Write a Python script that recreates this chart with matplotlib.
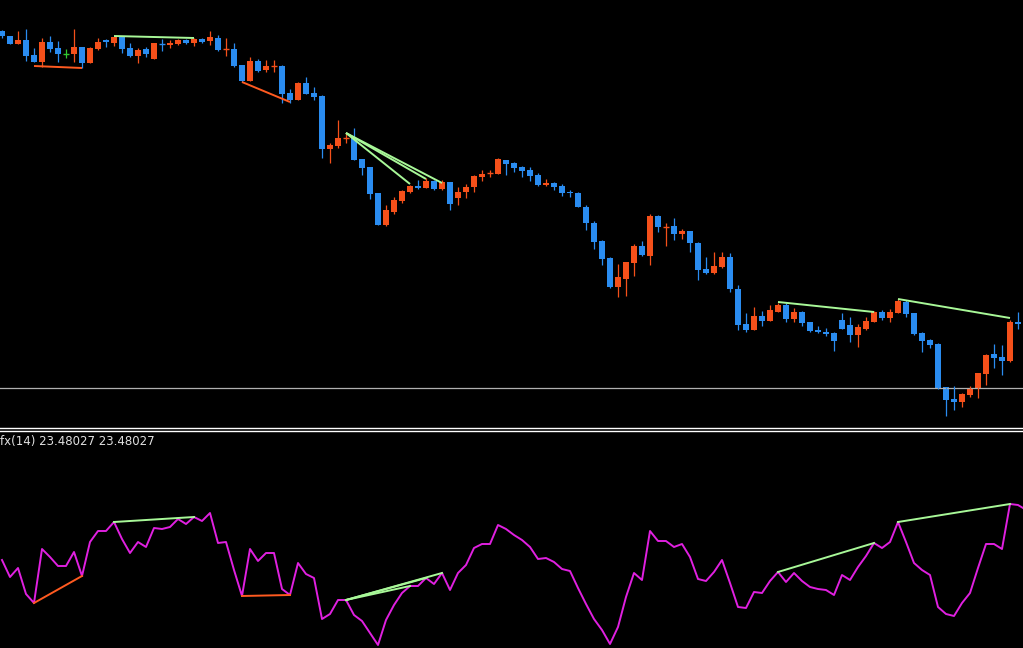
import matplotlib.pyplot as plt
from matplotlib.lines import Line2D

# values (pixel rows, smaller = higher price)
# candle: body top, body bottom, high, low, kind (b = down, r = up, g = flat)
candles = [
    (31, 36, 30, 38, 'b'), (36, 44, 36, 44, 'b'), (40, 44, 31, 44, 'r'), (40, 56, 29, 61, 'b'),
    (55, 62, 48, 62, 'b'), (42, 62, 38, 67, 'r'), (42, 49, 36, 52, 'b'), (48, 54, 41, 62, 'b'),
    (54, 54, 49, 58, 'g'), (47, 54, 29, 62, 'r'), (47, 63, 47, 68, 'b'), (48, 63, 47, 63, 'r'),
    (42, 49, 38, 50, 'r'), (40, 42, 39, 47, 'b'), (37, 43, 37, 46, 'r'), (37, 49, 37, 53, 'b'),
    (48, 56, 43, 57, 'b'), (50, 56, 48, 63, 'r'), (49, 54, 47, 57, 'b'), (43, 59, 43, 59, 'r'),
    (44, 44, 39, 51, 'b'), (43, 45, 40, 48, 'r'), (40, 44, 39, 45, 'r'), (40, 43, 39, 44, 'b'),
    (39, 43, 38, 46, 'r'), (39, 42, 38, 43, 'b'), (37, 41, 31, 45, 'r'), (38, 50, 35, 51, 'b'),
    (49, 49, 38, 56, 'r'), (49, 66, 43, 67, 'b'), (65, 81, 65, 82, 'b'), (61, 81, 57, 81, 'r'),
    (61, 71, 59, 72, 'b'), (66, 70, 60, 72, 'r'), (66, 66, 60, 72, 'r'), (66, 94, 65, 103, 'b'),
    (93, 100, 89, 103, 'b'), (83, 100, 82, 100, 'r'), (83, 94, 77, 94, 'b'), (93, 97, 87, 100, 'b'),
    (96, 149, 95, 158, 'b'), (145, 149, 143, 163, 'r'), (138, 146, 120, 148, 'r'), (138, 138, 133, 143, 'r'),
    (138, 160, 128, 160, 'b'), (159, 168, 159, 175, 'b'), (167, 194, 167, 199, 'b'), (193, 225, 193, 225, 'b'),
    (210, 225, 205, 226, 'r'), (200, 212, 197, 214, 'r'), (191, 201, 190, 203, 'r'), (186, 192, 185, 193, 'r'),
    (186, 188, 180, 189, 'b'), (181, 188, 178, 188, 'r'), (181, 189, 180, 190, 'b'), (182, 189, 180, 190, 'r'),
    (182, 204, 182, 210, 'b'), (192, 198, 187, 205, 'r'), (187, 192, 184, 198, 'r'), (176, 187, 175, 192, 'r'),
    (174, 177, 170, 181, 'r'), (173, 173, 170, 177, 'r'), (159, 174, 158, 174, 'r'), (160, 164, 160, 175, 'b'),
    (163, 168, 162, 172, 'b'), (167, 171, 166, 177, 'b'), (170, 176, 167, 181, 'b'), (175, 185, 173, 186, 'b'),
    (183, 185, 179, 186, 'r'), (183, 187, 182, 190, 'b'), (186, 193, 184, 196, 'b'), (192, 193, 190, 197, 'b'),
    (193, 207, 192, 207, 'b'), (207, 223, 205, 230, 'b'), (223, 242, 221, 249, 'b'), (241, 259, 240, 265, 'b'),
    (258, 287, 257, 288, 'b'), (277, 287, 264, 297, 'r'), (262, 279, 262, 296, 'r'), (246, 263, 244, 276, 'r'),
    (246, 255, 241, 256, 'b'), (216, 256, 214, 265, 'r'), (216, 227, 215, 232, 'b'), (227, 227, 223, 246, 'r'),
    (226, 234, 218, 240, 'b'), (231, 234, 229, 239, 'r'), (231, 243, 231, 252, 'b'), (243, 270, 242, 280, 'b'),
    (269, 273, 257, 274, 'b'), (266, 273, 252, 274, 'r'), (257, 267, 252, 268, 'r'), (257, 289, 253, 292, 'b'),
    (289, 325, 285, 330, 'b'), (324, 330, 313, 332, 'b'), (316, 330, 307, 330, 'r'), (316, 321, 311, 326, 'b'),
    (310, 321, 305, 321, 'r'), (305, 312, 303, 312, 'r'), (305, 319, 303, 322, 'b'), (312, 319, 308, 322, 'r'),
    (312, 323, 311, 326, 'b'), (322, 331, 322, 332, 'b'), (330, 332, 326, 333, 'b'), (332, 334, 328, 336, 'b'),
    (333, 341, 332, 351, 'b'), (320, 329, 313, 329, 'b'), (325, 335, 317, 342, 'b'), (327, 335, 324, 347, 'r'),
    (321, 329, 317, 330, 'r'), (312, 322, 311, 322, 'r'), (312, 318, 310, 320, 'b'), (312, 318, 309, 322, 'r'),
    (301, 313, 299, 313, 'r'), (302, 314, 300, 317, 'b'), (313, 334, 313, 335, 'b'), (333, 341, 332, 352, 'b'),
    (340, 345, 339, 348, 'b'), (344, 388, 343, 389, 'b'), (387, 400, 387, 416, 'b'), (399, 402, 386, 410, 'b'),
    (394, 402, 393, 407, 'r'), (388, 395, 386, 397, 'r'), (373, 388, 373, 398, 'r'), (355, 374, 354, 385, 'r'),
    (354, 358, 344, 368, 'b'), (357, 361, 345, 375, 'b'), (322, 361, 320, 362, 'r'), (322, 324, 312, 329, 'b'),
]

fx_values = [
    560, 577, 568, 594, 603, 549, 557, 566, 566, 552, 576, 542, 531, 531, 522, 539,
    553, 542, 547, 528, 529, 527, 519, 524, 517, 521, 513, 543, 542, 570, 596, 549,
    561, 553, 553, 589, 595, 563, 574, 578, 619, 614, 600, 600, 615, 621, 633, 645,
    620, 605, 593, 586, 586, 578, 584, 573, 590, 573, 565, 548, 544, 544, 525, 529,
    535, 540, 547, 559, 558, 562, 569, 571, 588, 604, 619, 630, 644, 627, 597, 573,
    580, 531, 541, 541, 547, 544, 557, 579, 581, 572, 560, 583, 607, 608, 592, 593,
    581, 572, 582, 573, 581, 587, 589, 590, 595, 575, 580, 567, 556, 543, 548, 542,
    522, 542, 563, 570, 575, 607, 614, 616, 603, 593, 568, 544, 544, 549, 504, 505,
]
fx_label = 'fx(14) 23.48027 23.48027'
level_line = 388

# divergence lines: (start index, end index, color) drawn on the extremes
price_div = [(4, 10, 66, 68, 'r'), (14, 24, 36, 38, 'g'), (30, 36, 82, 102, 'r'),
             (43, 55, 133, 183, 'g'), (43, 53, 133, 179, 'g'), (43, 51, 133, 184, 'g'),
             (97, 109, 302, 312, 'g'), (112, 126, 299, 318, 'g')]
fx_div = [(4, 10, 'r'), (14, 24, 'g'), (30, 36, 'r'), (43, 55, 'g'), (43, 53, 'g'),
          (43, 51, 'g'), (97, 109, 'g'), (112, 126, 'g')]

BLUE = '#2a8cf0'
RED = '#f5501a'
GREEN_DOJI = '#30c830'
DIV = {'r': '#ff5a20', 'g': '#a8f898'}

W, H = 1023, 648
fig = plt.figure(figsize=(W / 100, H / 100), dpi=100, facecolor='black')
top = fig.add_axes([0, 1 - 426 / H, 1, 426 / H], facecolor='black')
bot = fig.add_axes([0, 0, 1, (H - 431) / H], facecolor='black')

xmin, xmax = -0.25, (W - 2) / 8
for ax in (top, bot):
    ax.set_xlim(xmin, xmax)
    ax.axis('off')
top.set_ylim(426, 0)
bot.set_ylim(H, 431)

top.axhline(level_line, color='#b0b0b0', lw=0.9)

for i, (btop, bbot, hi, lo, kind) in enumerate(candles):
    col = {'b': BLUE, 'r': RED, 'g': GREEN_DOJI}[kind]
    top.vlines(i, hi, lo, color=col, lw=0.9)
    if bbot - btop < 1:
        top.hlines(btop, i - 0.36, i + 0.36, color=col, lw=1.0)
    else:
        top.bar(i, bbot - btop, bottom=btop, width=0.68, color=col, linewidth=0)

for a, b, ya, yb, c in price_div:
    top.plot([a, b], [ya, yb], color=DIV[c], lw=1.4, solid_capstyle='butt')

x = list(range(len(fx_values)))
bot.plot(x + [xmax], fx_values + [508], color='#e020e0', lw=1.4)
for a, b, c in fx_div:
    bot.plot([a, b], [fx_values[a], fx_values[b]], color=DIV[c], lw=1.4)

bot.text(0.0, 441, fx_label, color='#e0e0e0', fontsize=8.5, va='center', ha='left',
         transform=bot.get_yaxis_transform())

# double separator between the panels
for yy in (427.5, 430.5):
    fig.add_artist(Line2D([0, 1], [1 - yy / H] * 2, color='white', lw=1.0))

fig.savefig('out.png', dpi=100, facecolor='black')
